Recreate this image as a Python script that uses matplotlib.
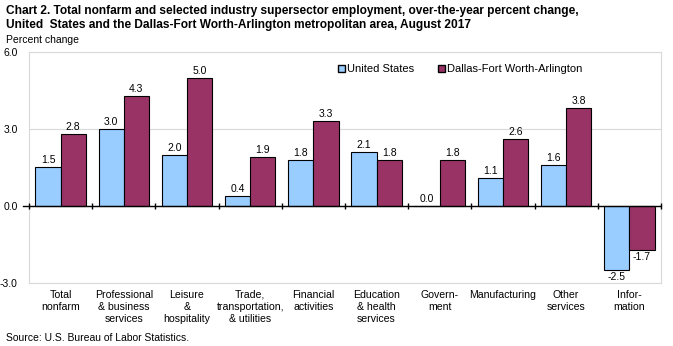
import numpy as np
import matplotlib.pyplot as plt
from matplotlib.patches import Patch

plt.rcParams['font.family'] = ['Liberation Sans', 'DejaVu Sans']

categories = ['Total\nnonfarm', 'Professional\n& business\nservices', 'Leisure\n&\nhospitality',
              'Trade,\ntransportation,\n& utilities', 'Financial\nactivities', 'Education\n& health\nservices',
              'Govern-\nment', 'Manufacturing', 'Other\nservices', 'Infor-\nmation']
us_values = [1.5, 3.0, 2.0, 0.4, 1.8, 2.1, 0.0, 1.1, 1.6, -2.5]
dfw_values = [2.8, 4.3, 5.0, 1.9, 3.3, 1.8, 1.8, 2.6, 3.8, -1.7]

US_COLOR = '#99CCFF'
DFW_COLOR = '#993366'

fig = plt.figure(figsize=(6.73, 3.46), dpi=100)
ax = fig.add_axes([0.0431, 0.182, 0.939, 0.668])

x = np.arange(len(categories))
w = 0.4
ax.bar(x - w / 2, us_values, w, color=US_COLOR, edgecolor='black', linewidth=0.8, zorder=3)
ax.bar(x + w / 2, dfw_values, w, color=DFW_COLOR, edgecolor='black', linewidth=0.8, zorder=3)

# value labels, above positive bars and below negative ones
for offset, vals in ((-w / 2, us_values), (w / 2, dfw_values)):
    for xi, v in zip(x + offset, vals):
        ax.text(xi, v + 0.08 if v >= 0 else v - 0.08, f'{v:.1f}', ha='center',
                va='bottom' if v >= 0 else 'top', fontsize=7.5, zorder=5)

ax.set_xlim(-0.5, len(categories) - 0.5)
ax.set_ylim(-3, 6)
ax.set_yticks([-3, 0, 3, 6])
ax.set_yticklabels(['-3.0', '0.0', '3.0', '6.0'], fontsize=7.5)
ax.set_xticks(x)
ax.set_xticklabels(categories, fontsize=7.6, linespacing=1.25)
ax.tick_params(axis='x', length=0, pad=5)
ax.tick_params(axis='y', length=0, pad=8)
ax.yaxis.grid(True, color='#d9d9d9', linewidth=0.8, zorder=0)
for s in ax.spines.values():
    s.set_color('#d9d9d9')
    s.set_linewidth(0.8)

# zero line with category divider ticks
ax.axhline(0, color='black', linewidth=1.0, zorder=4)
bounds = np.arange(len(categories) + 1) - 0.5
ax.vlines(bounds, -0.12, 0.12, color='black', linewidth=1.0, zorder=4, clip_on=False)
ax.plot([-0.6, -0.5], [0, 0], color='black', linewidth=1.0, clip_on=False)

handles = [Patch(facecolor=US_COLOR, edgecolor='black', label='United States'),
           Patch(facecolor=DFW_COLOR, edgecolor='black', label='Dallas-Fort Worth-Arlington')]
ax.legend(handles=handles, loc='upper left', bbox_to_anchor=(0.473, 0.99), ncol=2, frameon=False,
          fontsize=8, handlelength=0.6, handleheight=0.6, handletextpad=0.2, columnspacing=2.2)

fig.text(0.009, 0.985, 'Chart 2. Total nonfarm and selected industry supersector employment, over-the-year percent change,\n'
         'United  States and the Dallas-Fort Worth-Arlington metropolitan area, August 2017',
         ha='left', va='top', fontsize=8.6, fontweight='bold', linespacing=1.2)
fig.text(0.009, 0.885, 'Percent change', ha='left', va='center', fontsize=7.5)
fig.text(0.009, 0.022, 'Source: U.S. Bureau of Labor Statistics.', ha='left', va='center', fontsize=7.5)

fig.savefig('out.png', dpi=100)
